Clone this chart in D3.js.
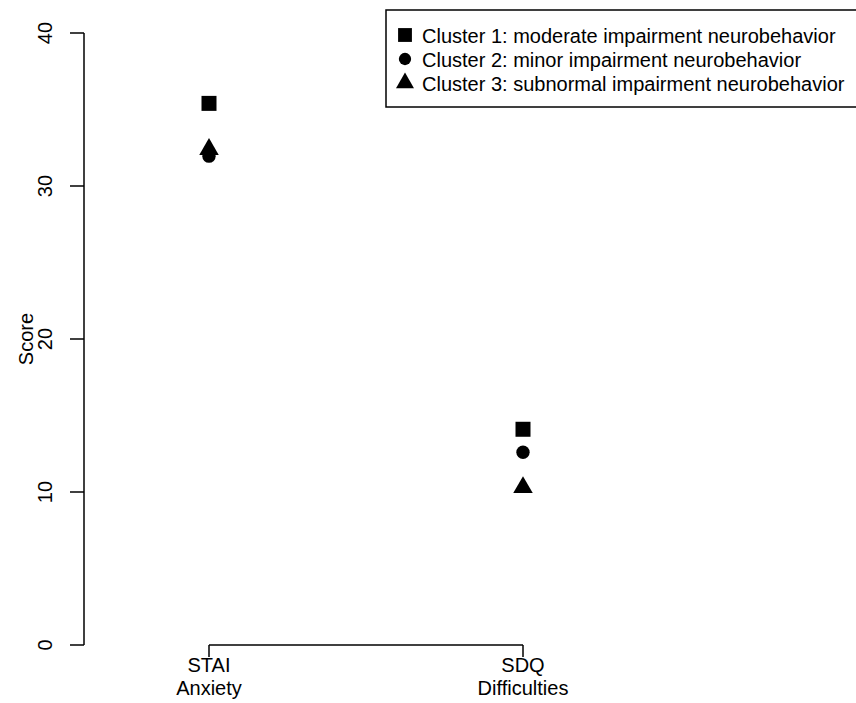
<!DOCTYPE html>
<html><head><meta charset="utf-8">
<script src="https://cdn.jsdelivr.net/npm/d3@7"></script>
<style>body{margin:0;background:#fff;} text{font-family:"Liberation Sans",Arial,sans-serif;}</style>
</head><body>
<svg id="c" width="856" height="703"></svg>
<script>
const categories = [["STAI","Anxiety"],["SDQ","Difficulties"]];
const clusterNames = ["Cluster 1: moderate impairment neurobehavior","Cluster 2: minor impairment neurobehavior","Cluster 3: subnormal impairment neurobehavior"];
const cluster1 = [35.4, 14.1];
const cluster2 = [31.95, 12.6];
const cluster3 = [32.4, 10.3];
const yTicks = [0,10,20,30,40];

const svg = d3.select("#c");
const x = d3.scaleLinear().domain([0,1]).range([209,523]);
const y = d3.scaleLinear().domain([0,40]).range([645,33]);
const shapes = [d3.symbolSquare, d3.symbolCircle, d3.symbolTriangle];
const sizes = [225, 140, 165];
const series = [cluster1, cluster2, cluster3];
const FS = 20;

// y axis
const ya = svg.append("g").attr("transform","translate(84,0)");
ya.append("line").attr("x1",0).attr("x2",0).attr("y1",y(40)).attr("y2",y(0)).attr("stroke","#000").attr("stroke-width",1.5);
yTicks.forEach(t=>{
  ya.append("line").attr("x1",-14).attr("x2",0).attr("y1",y(t)).attr("y2",y(t)).attr("stroke","#000").attr("stroke-width",1.5);
  ya.append("text").attr("transform",`translate(-32,${y(t)}) rotate(-90)`).attr("text-anchor","middle").attr("font-size",FS).text(t);
});
svg.append("text").attr("transform",`translate(33,${y(20)}) rotate(-90)`).attr("text-anchor","middle").attr("font-size",FS).text("Score");

// x axis
const xa = svg.append("g").attr("transform",`translate(0,645)`);
xa.append("line").attr("x1",x(0)).attr("x2",x(1)).attr("y1",0).attr("y2",0).attr("stroke","#000").attr("stroke-width",1.5);
categories.forEach((c,i)=>{
  xa.append("line").attr("x1",x(i)).attr("x2",x(i)).attr("y1",0).attr("y2",12).attr("stroke","#000").attr("stroke-width",1.5);
  xa.append("text").attr("x",x(i)).attr("y",27).attr("text-anchor","middle").attr("font-size",FS).text(c[0]);
  xa.append("text").attr("x",x(i)).attr("y",50).attr("text-anchor","middle").attr("font-size",FS).text(c[1]);
});

series.forEach((s,k)=>{
  s.forEach((v,i)=>{
    svg.append("path").attr("d",d3.symbol().type(shapes[k]).size(sizes[k])())
      .attr("transform",`translate(${x(i)},${y(v)})`).attr("fill","#000");
  });
});

// legend
const lg = svg.append("g");
lg.append("rect").attr("x",386).attr("y",10).attr("width",480).attr("height",97).attr("fill","#fff").attr("stroke","#000").attr("stroke-width",1.5);
clusterNames.forEach((n,k)=>{
  const base = 43 + k*24;
  lg.append("path").attr("d",d3.symbol().type(shapes[k]).size(sizes[k]*0.85)()).attr("transform",`translate(405,${base-8})`).attr("fill","#000");
  lg.append("text").attr("x",422).attr("y",base).attr("font-size",FS).text(n);
});
</script>
</body></html>
